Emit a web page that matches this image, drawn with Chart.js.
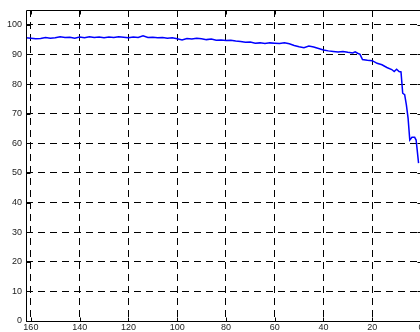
<!DOCTYPE html>
<html>
<head>
<meta charset="utf-8">
<script src="https://cdn.jsdelivr.net/npm/chart.js@4/dist/chart.umd.min.js"></script>
<style>
  html, body { margin: 0; padding: 0; background: #fff; }
  body { width: 420px; height: 332px; overflow: hidden; }
  #wrap { width: 440px; height: 332px; }
</style>
</head>
<body>
<div id="wrap"><canvas id="c" width="440" height="332"></canvas></div>
<script>
// Horizontal positions (axis runs from 162 down to 0)
const xValues = [
  162, 160, 158, 156, 154, 152, 150, 148, 146, 144,
  142, 140, 138, 136, 134, 132, 130, 128, 126, 124,
  122, 120, 118, 116, 114, 112, 110, 108, 106, 104,
  102, 100, 98, 96, 94, 92, 90, 88, 86, 84,
  82, 80, 78, 76, 74, 72, 70, 68, 66, 64,
  62, 60, 58, 56, 54, 52, 50, 48, 46, 44,
  42, 40, 38, 36, 34, 32, 30, 28, 27, 26,
  25, 24, 22, 20, 18, 16, 14, 12, 11, 10,
  9, 8.2, 7.5, 6.7, 6, 5.3, 4.6, 3.7, 2.6, 2, 1
];

// Measured values
const yValues = [
  95.6, 95.5, 95.3, 95.4, 95.7, 95.5, 95.6, 96.0, 95.7, 95.8,
  95.5, 95.9, 95.6, 96.0, 95.7, 95.9, 95.6, 95.9, 95.7, 96.0,
  95.8, 95.6, 95.9, 95.7, 96.3, 95.7, 95.8, 95.6, 95.7, 95.5,
  95.6, 95.3, 94.9, 95.4, 95.2, 95.5, 95.3, 95.0, 95.2, 94.8,
  94.9, 94.7, 94.8, 94.5, 94.4, 94.1, 94.2, 93.8, 93.9, 93.7,
  93.9, 93.8, 93.7, 93.9, 93.6, 93.0, 92.6, 92.3, 92.8, 92.5,
  92.0, 91.5, 91.2, 91.0, 90.8, 91.0, 90.7, 90.5, 90.9, 90.4,
  90.0, 88.3, 88.0, 87.9, 87.0, 86.5, 85.6, 84.9, 84.2, 85.0,
  84.2, 84.1, 76.9, 76.4, 73.0, 68.5, 61.1, 62.0, 62.0, 61.1, 53.3
];

// Tick values shown on each axis
const xTicks = [160, 140, 120, 100, 80, 60, 40, 20, 0];
const yTicks = [0, 10, 20, 30, 40, 50, 60, 70, 80, 90, 100];

const points = xValues.map((x, i) => ({ x: x, y: yValues[i] }));

// Solid frame plus short inward tick marks, as in a classic plotting box
const frameAndTicks = {
  id: 'frameAndTicks',
  afterDraw(chart) {
    const { ctx, chartArea: a, scales } = chart;
    ctx.save();
    ctx.strokeStyle = '#000';
    ctx.lineWidth = 1;
    ctx.setLineDash([]);
    ctx.beginPath();
    const L = Math.round(a.left) + 0.5, R = Math.round(a.right) + 0.5;
    const T = Math.round(a.top) + 0.5, B = Math.round(a.bottom) + 0.5;
    ctx.rect(L, T, R - L, B - T);
    ctx.stroke();
    const len = 4;
    ctx.beginPath();
    xTicks.forEach(v => {
      const px = Math.round(scales.x.getPixelForValue(v)) + 0.5;
      ctx.moveTo(px, B); ctx.lineTo(px, B - len);
      ctx.moveTo(px, T); ctx.lineTo(px, T + len);
    });
    yTicks.forEach(v => {
      const py = Math.round(scales.y.getPixelForValue(v)) + 0.5;
      ctx.moveTo(L, py); ctx.lineTo(L + len, py);
      ctx.moveTo(R, py); ctx.lineTo(R - len, py);
    });
    ctx.stroke();
    ctx.restore();
  }
};

const tickFont = { family: "'Liberation Sans', Arial, Helvetica, sans-serif", size: 9 };

new Chart(document.getElementById('c'), {
  type: 'line',
  data: {
    datasets: [{
      data: points,
      borderColor: '#0000ff',
      borderWidth: 1.5,
      pointRadius: 0,
      tension: 0,
      fill: false
    }]
  },
  options: {
    responsive: false,
    devicePixelRatio: 1,
    animation: false,
    layout: { padding: { left: 0, top: 10, right: 19, bottom: 0 } },
    plugins: { legend: { display: false }, tooltip: { enabled: false } },
    scales: {
      x: {
        type: 'linear',
        reverse: true,
        min: 0,
        max: 162,
        afterBuildTicks: s => { s.ticks = xTicks.map(v => ({ value: v })); },
        afterFit: s => { s.height = 11; },
        ticks: { font: tickFont, color: '#222', padding: 1, maxRotation: 0, autoSkip: false },
        grid: { color: '#000', lineWidth: 1, drawTicks: false },
        border: { display: false, dash: [7, 5] }
      },
      y: {
        type: 'linear',
        min: 0,
        max: 105,
        afterBuildTicks: s => { s.ticks = yTicks.map(v => ({ value: v })); },
        afterFit: s => { s.width = 26; },
        ticks: { font: tickFont, color: '#222', padding: 4, autoSkip: false },
        grid: { color: '#000', lineWidth: 1, drawTicks: false },
        border: { display: false, dash: [7, 5] }
      }
    }
  },
  plugins: [frameAndTicks]
});
</script>
</body>
</html>
